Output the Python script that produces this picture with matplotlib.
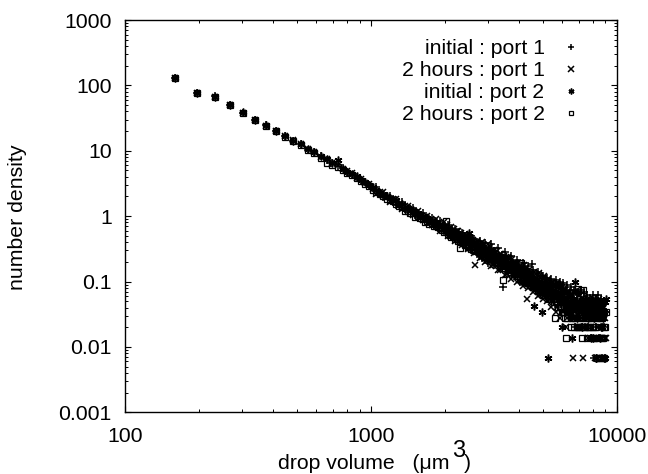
import matplotlib
matplotlib.use('Agg')
import matplotlib.pyplot as plt
from matplotlib.ticker import FixedLocator, NullFormatter

plt.rcParams['font.family'] = ['Liberation Sans', 'DejaVu Sans']

# shared volume bins, um^3
volumes = [
    160, 196, 232, 268, 303, 339, 375, 410, 446, 482, 518, 553,
    589, 625, 661, 696, 732, 768, 803, 839, 875, 910, 946, 982,
    1018, 1089, 1160, 1232, 1303, 1375, 1446, 1518, 1589, 1661, 1732, 1803,
    1875, 1946, 2018, 2089, 2160, 2232, 2303, 2375, 2446, 2518, 2589, 2661,
    2732, 2803, 2875, 2946,
    3018, 3125, 3232, 3339, 3446, 3553, 3660, 3767, 3875, 3982, 4089, 4196,
    4303, 4410, 4517, 4625, 4732, 4839, 4946, 5053, 5160, 5267, 5375, 5482,
    5589, 5696, 5803, 5910, 6018, 6125, 6232, 6339, 6446, 6553, 6660, 6767,
    6875, 6982, 7089, 7196, 7303, 7410, 7517, 7625, 7732, 7839, 7946, 8053,
    8160, 8267, 8375, 8482, 8589, 8696, 8803, 8910, 9017,
]

initial_port1 = [
    131, 77, 68, 50, 38, 30, 24.5, 20, 17, 14.2, 12.8, 10.4,
    9.6, 8.2, 7.3, 6.5, 5.8, 5.4, 4.7, 4.3, 4.0, 3.6, 3.3, 3.0,
    2.7, 2.25, 2.05, 1.7, 1.6, 1.35, 1.28, 1.1, 1.05, .9, .89, .78,
    .76, .67, .66, .58, .57, .5, .5, .45, .44, .38, .4, .35,
    .35, .3, .31, .27,
    .3, .22, .26, .19, .083, .23, .16, .2, .13, .17, .12, .16,
    .11, .14, .187, .09, .13, .08, .12, .07, .11, .0683, .1, .0615,
    .09, .0547, .0888, .0478, .082, .041, .0752, .0342, .0683, .0273, .0615, .0205,
    .0547, .0273, .0478, .0205, .041, .0205, .0547, .0205, .0342, .0137, .0478, .0068,
    .041, .0205, .0342, .0137, .0478, .0068, .0273, .0205, .0342,
]

hours2_port1 = [
    131, 77, 67, 51, 38, 29.5, 24.3, 20.4, 16.8, 14.6, 12.6, 10.8,
    9.7, 8, 7.5, 6.4, 6, 5.2, 4.9, 4.5, 3.9, 3.65, 3.25, 3.05,
    2.6, 2.35, 1.95, 1.8, 1.5, 1.42, 1.2, 1.16, .96, .98, .82, .84,
    .7, .74, .62, .66, .54, .6, .46, .5, .4, .46, .36, .178,
    .31, .36, .27, .32,
    .24, .29, .21, .26, .18, .235, .15, .22, .14, .19, .125, .18,
    .055, .15, .1, .14, .09, .135, .082, .12, .075, .11, .0683, .1,
    .0615, .095, .0547, .0888, .0478, .0752, .0205, .0683, .0342, .0615, .0068, .0547,
    .0273, .0478, .0205, .041, .0068, .0342, .0273, .0137, .0478, .0205, .0342, .0137,
    .0068, .041, .0205, .0547, .0273, .0137, .0068, .0342, .0137,
]

initial_port2 = [
    131, 77, 67, 50.5, 38.5, 30, 24.4, 20, 17, 14.3, 12.7, 10.7,
    9.5, 8.2, 7.4, 6.4, 7.2, 5.3, 4.8, 4.4, 4.05, 3.55, 3.35, 2.95,
    2.75, 2.2, 2.0, 1.72, 1.48, 1.3, 1.27, 1.08, 1.0, .93, .85, .77,
    .72, .71, .6, .62, .52, .54, .47, .42, .48, .55, .36, .38,
    .3, .34, .28, .3,
    .25, .27, .22, .23, .19, .21, .17, .19, .14, .16, .13, .15,
    .1, .13, .105, .042, .11, .1, .0342, .095, .082, .0068, .09, .0752,
    .0683, .0888, .0547, .0752, .0205, .0683, .0478, .0615, .0342, .0137, .0547, .1,
    .0273, .0683, .041, .0205, .0547, .0342, .0478, .0273, .041, .0137, .0478, .0273,
    .041, .0068, .0342, .0478, .0137, .0205, .0273, .0068, .0547,
]

hours2_port2 = [
    131, 76, 66, 50, 37.5, 29.3, 24, 19.8, 16.5, 14, 12.4, 10.2,
    9.3, 7.8, 6.6, 6.1, 5.6, 5, 4.5, 4.2, 3.8, 3.4, 3.1, 2.85,
    2.5, 2.15, 1.85, 1.7, 1.45, 1.2, 1.12, .98, .94, .8, .76, .7,
    .68, .62, .85, .52, .5, .45, .33, .41, .38, .34, .34, .3,
    .29, .27, .26, .24,
    .23, .22, .2, .19, .106, .17, .16, .15, .14, .13, .19, .115,
    .11, .1, .095, .09, .085, .08, .075, .0683, .0683, .0615, .0615, .0547,
    .0273, .0478, .0547, .041, .0478, .0342, .0137, .0342, .041, .0273, .0342, .0273,
    .0205, .077, .0273, .0137, .074, .0205, .0342, .0273, .0205, .0342, .0273, .0137,
    .0205, .0273, .0137, .0068, .041, .0273, .0137, .0205, .0342,
]

# in-between bins, these fill the wide part of the band
volumes_fill = [
    1054, 1125, 1196, 1268, 1339, 1411, 1482, 1554, 1625, 1696, 1768, 1839,
    1911, 1982, 2054, 2125, 2196, 2268, 2339, 2411, 2482, 2554, 2625, 2696,
    2768, 2839, 2911, 2982,
    3071, 3178, 3285, 3392, 3500, 3607, 3714, 3821, 3928, 4035, 4142, 4250,
    4357, 4464, 4571, 4678, 4785, 4892, 5000, 5107, 5214, 5321, 5428, 5535,
    5642, 5750, 5857, 5964, 6071, 6178, 6285, 6392, 6500, 6607, 6714, 6821,
    6928, 7035, 7142, 7250, 7357, 7464, 7571, 7678, 7785, 7892, 8000, 8107,
    8214, 8321, 8428, 8535, 8642, 8750, 8857, 8964,
]

initial_port1_fill = [
    2.75, 1.95, 2.05, 1.5, 1.65, 1.15, 1.35, .95, 1.1, .8, .95, .68,
    .85, .6, .73, .5, .64, .42, .55, .36, .5, .3, .44, .26,
    .41, .23, .39, .19,
    .37, .18, .33, .16, .28, .135, .25, .12, .21, .1, .19, .095,
    .17, .085, .15, .075, .14, .065, .12, .0683, .115, .0547, .11, .0478,
    .105, .041, .1, .0478, .0957, .0342, .0888, .0342, .082, .0273, .0752, .0342,
    .0683, .0273, .0752, .0342, .0683, .0273, .0615, .0342, .0547, .0273, .0615, .0342,
    .0547, .0273, .0615, .0342, .0547, .0273, .0478, .0342,
]

hours2_port1_fill = [
    2.15, 2.35, 1.65, 1.85, 1.28, 1.45, 1.05, 1.2, .86, 1.0, .73, .9,
    .6, .8, .5, .68, .42, .6, .36, .53, .31, .47, .27, .42,
    .23, .4, .2, .38,
    .17, .3, .15, .26, .125, .24, .11, .19, .1, .17, .085, .155,
    .08, .14, .07, .13, .06, .115, .055, .105, .05, .0957, .041, .0888,
    .0342, .0888, .0273, .082, .0342, .0752, .0273, .0683, .0342, .0615, .0273, .0683,
    .0205, .0615, .0273, .0547, .0205, .0478, .0273, .0547, .0137, .0478, .0273, .0547,
    .0137, .0478, .0205, .041, .0273, .0068, .041, .0137,
]

initial_port2_fill = [
    2.55, 2.2, 1.9, 1.75, 1.55, 1.35, 1.25, 1.1, 1.0, .95, .85, .8,
    .75, .7, .65, .6, .56, .52, .48, .44, .42, .39, .37, .35,
    .33, .31, .3, .28,
    .31, .28, .25, .23, .21, .2, .18, .16, .15, .14, .135, .125,
    .12, .11, .1, .095, .09, .085, .08, .075, .0752, .0683, .0683, .0615,
    .0615, .0615, .0547, .0547, .0478, .0478, .041, .041, .0547, .0478, .041, .0478,
    .041, .0342, .0478, .041, .0342, .041, .0342, .0478, .0342, .041, .0137, .041,
    .0068, .0342, .041, .0342, .0205, .041, .0342, .0068,
]

hours2_port2_fill = [
    2.3, 2.0, 1.75, 1.55, 1.38, 1.22, 1.12, 1.0, .92, .84, .78, .7,
    .65, .58, .54, .48, .45, .41, .4, .36, .34, .32, .3, .29,
    .27, .26, .24, .23,
    .24, .21, .19, .17, .16, .15, .14, .13, .12, .11, .105, .1,
    .095, .09, .085, .08, .0752, .0683, .0683, .0615, .0615, .0547, .0547, .0478,
    .0478, .041, .041, .0342, .0342, .0273, .0273, .0342, .0205, .0273, .0205, .0342,
    .0205, .0205, .0205, .0273, .0205, .0273, .0137, .0205, .0205, .0273, .0205, .0137,
    .0205, .0068, .0273, .0068, .0273, .0137, .0068, .0205,
]

# third set of bins, only port 1 crosses and port 2 stars
volumes_dense = [
    2036, 2107, 2178, 2250, 2321, 2393, 2464, 2536, 2607, 2678, 2750, 2821,
    2893, 2964, 3045, 3151, 3258, 3365, 3473, 3580, 3687, 3794, 3901, 4008,
    4115, 4223, 4330, 4437, 4544, 4651, 4758, 4865, 4973, 5080, 5187, 5294,
    5401, 5508, 5615, 5723, 5830, 5937, 6044, 6151, 6258, 6365, 6473, 6580,
    6687, 6794, 6901, 7008, 7115, 7223, 7330, 7437, 7544, 7651, 7758, 7865,
    7973, 8080, 8187, 8294, 8401, 8508, 8615, 8723, 8830, 8937,
]

hours2_port1_dense = [
    .72, .5, .64, .44, .56, .38, .49, .33, .43, .28, .38, .24,
    .36, .21, .34, .18, .29, .15, .25, .13, .22, .12, .19, .105,
    .165, .095, .145, .085, .13, .075, .115, .065, .105, .06, .1, .0547,
    .095, .0478, .0888, .041, .082, .0478, .0752, .041, .0683, .0342, .0615, .0273,
    .0683, .0342, .0752, .0273, .0615, .0342, .0547, .041, .0478, .0342, .0547, .041,
    .0478, .0342, .041, .0478, .0342, .041, .0478, .0342, .041, .0273,
]

initial_port2_dense = [
    .6, .62, .52, .56, .46, .5, .42, .44, .37, .4, .32, .34,
    .29, .3, .27, .24, .22, .2, .19, .17, .16, .155, .14, .14,
    .125, .125, .11, .115, .1, .105, .085, .09, .08, .085, .07, .0752,
    .0683, .0683, .0615, .0615, .0547, .0615, .0547, .0547, .0478, .0478, .041, .041,
    .041, .0478, .041, .0478, .041, .0478, .0342, .0478, .0342, .041, .0342, .0478,
    .0342, .041, .0547, .0342, .0478, .0342, .041, .0478, .0342, .0478,
]

x_ticks = [100, 1000, 10000]
x_tick_labels = ['100', '1000', '10000']
y_ticks = [0.001, 0.01, 0.1, 1, 10, 100, 1000]
y_tick_labels = ['0.001', '0.01', '0.1', '1', '10', '100', '1000']

DPI = 100
FS = 15.3
fig = plt.figure(figsize=(648 / DPI, 474 / DPI), dpi=DPI)
ax = fig.add_axes([125 / 648, 1 - 412.3 / 474, (616.7 - 125) / 648, (412.3 - 20) / 474])

xs = volumes + volumes_fill
asterisk = (6, 2, 0)
ax.plot(xs, initial_port1 + initial_port1_fill, ls='none', marker='+', ms=5.6, mew=1.1, color='black', label='initial : port 1')
ax.plot(xs + volumes_dense, hours2_port1 + hours2_port1_fill + hours2_port1_dense, ls='none', marker='x', ms=5.0, mew=1.1, color='black', label='2 hours : port 1')
ax.plot(xs + volumes_dense, initial_port2 + initial_port2_fill + initial_port2_dense, ls='none', marker=asterisk, ms=5.6, mew=1.1, color='black', label='initial : port 2')
ax.plot(xs, hours2_port2 + hours2_port2_fill, ls='none', marker='s', ms=4.6, mew=0.9, mfc='none', color='black', label='2 hours : port 2')

ax.set_xscale('log')
ax.set_yscale('log')
ax.set_xlim(100, 10000)
ax.set_ylim(0.001, 1000)

ax.set_xticks(x_ticks)
ax.set_xticklabels(x_tick_labels)
ax.set_yticks(y_ticks)
ax.set_yticklabels(y_tick_labels)
subs = [2, 3, 4, 5, 6, 7, 8, 9]
ax.xaxis.set_minor_locator(FixedLocator([d * s for d in x_ticks[:-1] for s in subs]))
ax.yaxis.set_minor_locator(FixedLocator([d * s for d in y_ticks[:-1] for s in subs]))
ax.xaxis.set_minor_formatter(NullFormatter())
ax.yaxis.set_minor_formatter(NullFormatter())

ax.tick_params(which='major', direction='in', length=4.5, width=0.8, top=True, right=True, labelsize=FS)
ax.tick_params(which='minor', direction='in', length=2.2, width=0.7, top=True, right=True)
ax.tick_params(axis='x', which='major', pad=10.5)
ax.tick_params(axis='y', which='major', pad=9.5)
for s in ax.spines.values():
    s.set_linewidth(1.0)

ax.legend(loc='upper right', bbox_to_anchor=(0.928, 0.951), frameon=False, fontsize=FS,
          markerfirst=False, markerscale=0.75, labelspacing=0.145, handlelength=1.0,
          handletextpad=0.73, borderpad=0, borderaxespad=0)

# axis labels, placed by hand because of the big superscript
fig.text(18 / 648, 1 - 217 / 474, 'number density', rotation=90, ha='center', va='center', fontsize=FS)
fig.text(278 / 648, 1 - 469 / 474, 'drop volume   (\u03bcm', ha='left', va='baseline', fontsize=FS)
fig.text(452.5 / 648, 1 - 457 / 474, '3', ha='left', va='baseline', fontsize=17)
fig.text(464 / 648, 1 - 469 / 474, ')', ha='left', va='baseline', fontsize=FS)

plt.savefig('out.png', dpi=DPI)
